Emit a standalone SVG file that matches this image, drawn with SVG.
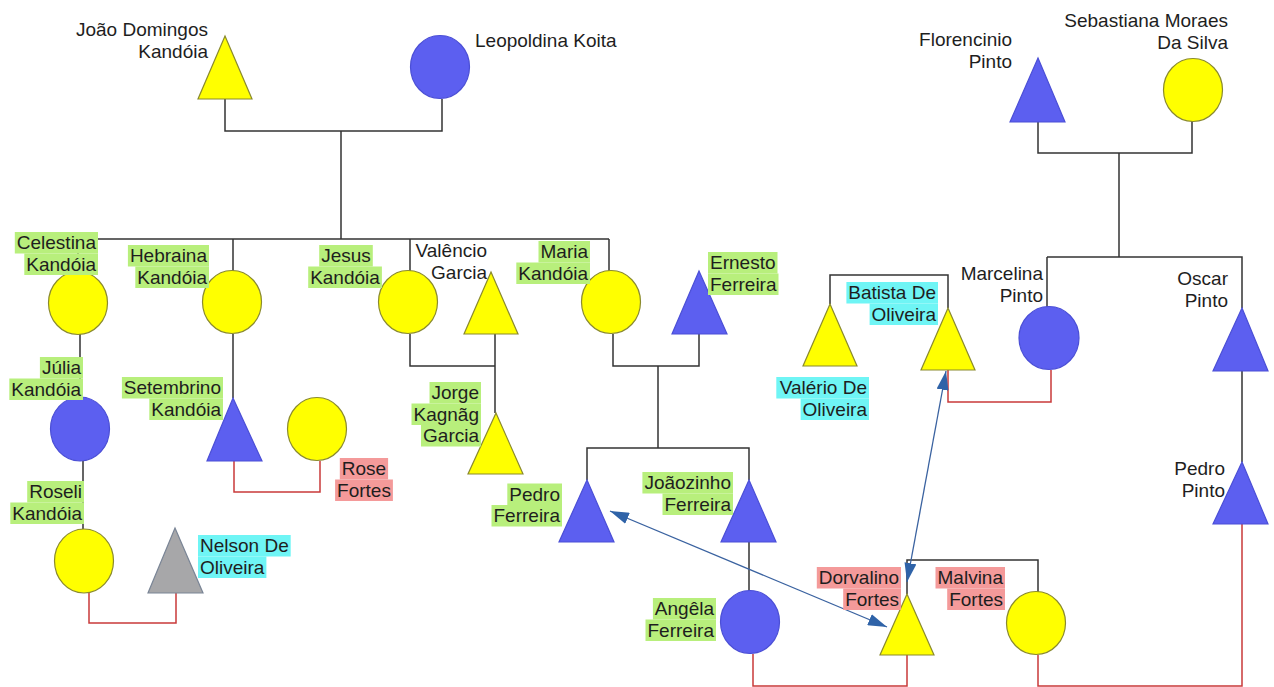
<svg xmlns="http://www.w3.org/2000/svg" width="1274" height="687" viewBox="0 0 1274 687">
<style>
.y{fill:#ffff00;stroke:#8a8a2e;stroke-width:1.2}
.b{fill:#5c5ff0;stroke:#4b4fd6;stroke-width:1.2}
.g{fill:#a7a7a9;stroke:#7a8596;stroke-width:1.2}
.t{font-family:"Liberation Sans",Arial,sans-serif;font-size:19px;fill:#1e1e1e}
.e{text-anchor:end}
.m{text-anchor:middle}
.hg{fill:#b8ef7c}
.hc{fill:#6ff5f5}
.hr{fill:#f49a9a}
.ln{fill:none;stroke:#333;stroke-width:1.5}
.rl{fill:none;stroke:#c93a3a;stroke-width:1.5}
.ar{fill:none;stroke:#3a62a0;stroke-width:1.3}
</style>
<defs>
<marker id="ah" viewBox="0 0 19 12" markerUnits="userSpaceOnUse" markerWidth="19" markerHeight="12" refX="19" refY="6" orient="auto-start-reverse">
<path d="M0,0 L19,6 L0,12 z" fill="#2f63a8"/>
</marker>
</defs>
<rect width="1274" height="687" fill="#fff"/>
<g id="connectors">
<path class="ln" d="M225 99 V131 H442 V99 M341 131 V239 M78 239 H609 M78 239 V272 M233 239 V271 M410 239 V271 M609 239 V271"/>
<path class="ln" d="M410 334 V366 H495 M495 334 V413 M613 334 V366 H699 V334 M658 366 V448 M587 480 V448 H749 V480 M749 542 V591"/>
<path class="ln" d="M80 334 V397 M83 461 V529 M233 334 V398"/>
<path class="ln" d="M1038 122 V153 H1192 V121 M1119 153 V257 M1047 257 H1242 V308 M1047 257 V307 M830 304 V275 H948 V308 M1242 371 V462 M907 594 V560 H1038 V592"/>
<path class="rl" d="M89 593 V623 H176 V593 M234 461 V492 H320 V461 M948 370 V402 H1051 V370 M753 654 V686 H907 V655 M1038 655 V686 H1242 V524"/>
<path class="ar" d="M610 511 L887 627" marker-start="url(#ah)" marker-end="url(#ah)"/>
<path class="ar" d="M946 371 L907 582" marker-start="url(#ah)" marker-end="url(#ah)"/>
</g>
<g id="joao">
<polygon class="y" points="225,36 252,99 198,99"/>
<text class="t e" x="208" y="36">João Domingos</text>
<text class="t e" x="208" y="57.5">Kandóia</text>
</g>
<g id="leopoldina">
<ellipse class="b" cx="440" cy="67" rx="29.5" ry="31.5"/>
<text class="t" x="475" y="47">Leopoldina Koita</text>
</g>
<g id="florencinio">
<polygon class="b" points="1038,58 1065,122 1010,122"/>
<text class="t e" x="1012" y="46">Florencinio</text>
<text class="t e" x="1012" y="67.5">Pinto</text>
</g>
<g id="sebastiana">
<ellipse class="y" cx="1193" cy="90" rx="29.5" ry="31.5"/>
<text class="t e" x="1228" y="27">Sebastiana Moraes</text>
<text class="t e" x="1228" y="48.5">Da Silva</text>
</g>
<g id="celestina">
<ellipse class="y" cx="78" cy="303" rx="29.5" ry="31.5"/>
<rect class="hg" x="14.8" y="232" width="83.2" height="21.5"/>
<rect class="hg" x="24.3" y="253.5" width="73.7" height="21.5"/>
<text class="t e" x="96" y="249">Celestina</text>
<text class="t e" x="96" y="270.5">Kandóia</text>
</g>
<g id="hebraina">
<ellipse class="y" cx="232" cy="302" rx="29.5" ry="31.5"/>
<rect class="hg" x="127.9" y="245" width="81.1" height="21.5"/>
<rect class="hg" x="135.3" y="266.5" width="73.7" height="21.5"/>
<text class="t e" x="207" y="262">Hebraina</text>
<text class="t e" x="207" y="283.5">Kandóia</text>
</g>
<g id="jesus">
<ellipse class="y" cx="408" cy="302" rx="29.5" ry="31.5"/>
<rect class="hg" x="319.2" y="245" width="53.6" height="21.5"/>
<rect class="hg" x="308.2" y="266.5" width="73.7" height="21.5"/>
<text class="t m" x="346" y="262">Jesus</text>
<text class="t m" x="345" y="283.5">Kandóia</text>
</g>
<g id="valencio">
<polygon class="y" points="491,272 518,334 464,334"/>
<text class="t e" x="487" y="257">Valêncio</text>
<text class="t e" x="487" y="278.5">Garcia</text>
</g>
<g id="maria">
<ellipse class="y" cx="611" cy="302" rx="29.5" ry="31.5"/>
<rect class="hg" x="538.5" y="241" width="51.5" height="21.5"/>
<rect class="hg" x="516.3" y="262.5" width="73.7" height="21.5"/>
<text class="t e" x="588" y="258">Maria</text>
<text class="t e" x="588" y="279.5">Kandóia</text>
</g>
<g id="ernesto">
<polygon class="b" points="699,271 727,334 672,334"/>
<rect class="hg" x="708" y="252" width="69.5" height="21.5"/>
<rect class="hg" x="708" y="273.5" width="70.5" height="21.5"/>
<text class="t" x="710" y="269">Ernesto</text>
<text class="t" x="710" y="290.5">Ferreira</text>
</g>
<g id="julia">
<ellipse class="b" cx="80" cy="429" rx="29.5" ry="32"/>
<rect class="hg" x="39.9" y="357" width="43.1" height="21.5"/>
<rect class="hg" x="9.3" y="378.5" width="73.7" height="21.5"/>
<text class="t e" x="81" y="374">Júlia</text>
<text class="t e" x="81" y="395.5">Kandóia</text>
</g>
<g id="setembrino">
<polygon class="b" points="233,398 262,461 207,461"/>
<rect class="hg" x="121.9" y="377" width="101.1" height="21.5"/>
<rect class="hg" x="149.3" y="398.5" width="73.7" height="21.5"/>
<text class="t e" x="221" y="394">Setembrino</text>
<text class="t e" x="221" y="415.5">Kandóia</text>
</g>
<g id="rose">
<ellipse class="y" cx="317" cy="429" rx="29.5" ry="31.5"/>
<rect class="hr" x="339.8" y="458" width="48.3" height="21.5"/>
<rect class="hr" x="335.1" y="479.5" width="57.8" height="21.5"/>
<text class="t m" x="364" y="475">Rose</text>
<text class="t m" x="364" y="496.5">Fortes</text>
</g>
<g id="jorge">
<polygon class="y" points="496,413 523,474 468,474"/>
<rect class="hg" x="429.5" y="382" width="51.5" height="21.5"/>
<rect class="hg" x="411.5" y="403.5" width="69.5" height="21.5"/>
<rect class="hg" x="421" y="425" width="60" height="21.5"/>
<text class="t e" x="479" y="399">Jorge</text>
<text class="t e" x="479" y="420.5">Kagnãg</text>
<text class="t e" x="479" y="442">Garcia</text>
</g>
<g id="roseli">
<ellipse class="y" cx="84" cy="561" rx="29.5" ry="32"/>
<rect class="hg" x="27.2" y="481" width="56.8" height="21.5"/>
<rect class="hg" x="10.3" y="502.5" width="73.7" height="21.5"/>
<text class="t e" x="82" y="498">Roseli</text>
<text class="t e" x="82" y="519.5">Kandóia</text>
</g>
<g id="nelson">
<polygon class="g" points="175,528 203,593 148,593"/>
<rect class="hc" x="198" y="535" width="92.7" height="21.5"/>
<rect class="hc" x="198" y="556.5" width="68.4" height="21.5"/>
<text class="t" x="200" y="552">Nelson De</text>
<text class="t" x="200" y="573.5">Oliveira</text>
</g>
<g id="pedroferreira">
<polygon class="b" points="587,480 614,542 559,542"/>
<rect class="hg" x="507.3" y="483.5" width="54.7" height="21.5"/>
<rect class="hg" x="491.5" y="505" width="70.5" height="21.5"/>
<text class="t e" x="560" y="500.5">Pedro</text>
<text class="t e" x="560" y="522">Ferreira</text>
</g>
<g id="joaozinho">
<polygon class="b" points="749,480 776,542 721,542"/>
<rect class="hg" x="642.4" y="472" width="90.6" height="21.5"/>
<rect class="hg" x="662.5" y="493.5" width="70.5" height="21.5"/>
<text class="t e" x="731" y="489">Joãozinho</text>
<text class="t e" x="731" y="510.5">Ferreira</text>
</g>
<g id="angela">
<ellipse class="b" cx="750" cy="622" rx="29.5" ry="31.5"/>
<rect class="hg" x="652.9" y="598" width="63.1" height="21.5"/>
<rect class="hg" x="645.5" y="619.5" width="70.5" height="21.5"/>
<text class="t e" x="714" y="615">Angêla</text>
<text class="t e" x="714" y="636.5">Ferreira</text>
</g>
<g id="dorvalino">
<polygon class="y" points="907,594 934,655 880,655"/>
<rect class="hr" x="816.8" y="567" width="84.2" height="21.5"/>
<rect class="hr" x="843.2" y="588.5" width="57.8" height="21.5"/>
<text class="t e" x="899" y="584">Dorvalino</text>
<text class="t e" x="899" y="605.5">Fortes</text>
</g>
<g id="malvina">
<ellipse class="y" cx="1036" cy="623" rx="29.5" ry="31.5"/>
<rect class="hr" x="935.5" y="567" width="69.5" height="21.5"/>
<rect class="hr" x="947.2" y="588.5" width="57.8" height="21.5"/>
<text class="t e" x="1003" y="584">Malvina</text>
<text class="t e" x="1003" y="605.5">Fortes</text>
</g>
<g id="valerio">
<polygon class="y" points="830,304 857,366 803,366"/>
<rect class="hc" x="776.3" y="377" width="92.7" height="21.5"/>
<rect class="hc" x="800.6" y="398.5" width="68.4" height="21.5"/>
<text class="t e" x="867" y="394">Valério De</text>
<text class="t e" x="867" y="415.5">Oliveira</text>
</g>
<g id="batista">
<polygon class="y" points="948,308 975,370 921,370"/>
<rect class="hc" x="846.4" y="282" width="91.6" height="21.5"/>
<rect class="hc" x="869.6" y="303.5" width="68.4" height="21.5"/>
<text class="t e" x="936" y="299">Batista De</text>
<text class="t e" x="936" y="320.5">Oliveira</text>
</g>
<g id="marcelina">
<ellipse class="b" cx="1049" cy="338" rx="30" ry="31.5"/>
<text class="t e" x="1043" y="280">Marcelina</text>
<text class="t e" x="1043" y="301.5">Pinto</text>
</g>
<g id="oscar">
<polygon class="b" points="1242,308 1268,371 1213,371"/>
<text class="t e" x="1228" y="285">Oscar</text>
<text class="t e" x="1228" y="306.5">Pinto</text>
</g>
<g id="pedropinto">
<polygon class="b" points="1242,462 1268,524 1213,524"/>
<text class="t e" x="1225" y="475">Pedro</text>
<text class="t e" x="1225" y="496.5">Pinto</text>
</g>
</svg>
